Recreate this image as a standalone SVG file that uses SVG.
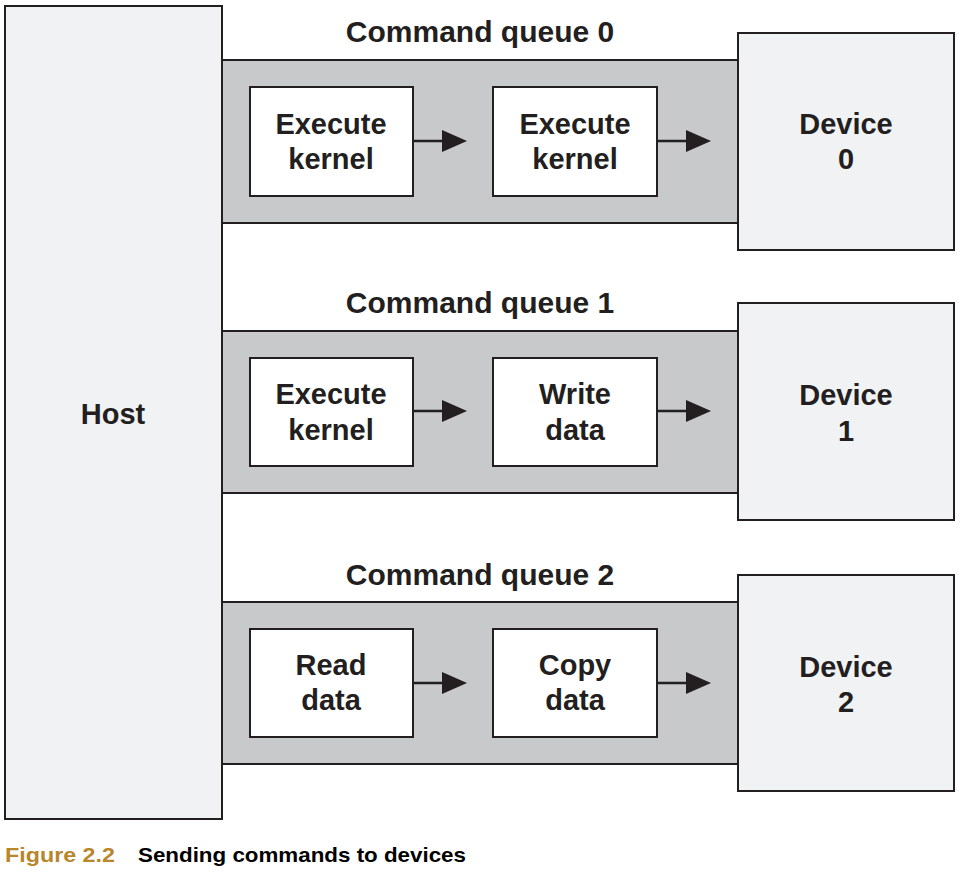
<svg xmlns="http://www.w3.org/2000/svg" width="962" height="872" viewBox="0 0 962 872">
<style>
.host{fill:#f1f2f4;stroke:#231f20;stroke-width:2}
.band{fill:#c8c9cb;stroke:#231f20;stroke-width:2}
.box{fill:#ffffff;stroke:#231f20;stroke-width:2}
.dev{fill:#f1f2f4;stroke:#231f20;stroke-width:2}
.t{font-family:"Liberation Sans",Arial,sans-serif;font-weight:bold;font-size:29px;fill:#231f20;text-anchor:middle}
.q{font-size:30px}
.ln{stroke:#231f20;stroke-width:2.5;fill:none}
.hd{fill:#231f20}
.cap{font-family:"Liberation Sans",Arial,sans-serif;font-weight:bold;font-size:21px}
</style>
<rect width="962" height="872" fill="#ffffff"/>
<g id="host">
<rect class="host" x="5" y="6" width="217" height="813"/>
<text class="t" x="113" y="424">Host</text>
</g>
<g id="queue0">
<rect class="band" x="222" y="60" width="516" height="163"/>
<text class="t q" x="480" y="42">Command queue 0</text>
</g>
<g id="queue1">
<rect class="band" x="222" y="331" width="516" height="162"/>
<text class="t q" x="480" y="313">Command queue 1</text>
</g>
<g id="queue2">
<rect class="band" x="222" y="602" width="516" height="162"/>
<text class="t q" x="480" y="585">Command queue 2</text>
</g>
<g id="q0a">
<rect class="box" x="250" y="87" width="163" height="109"/>
<text class="t" x="331" y="134">Execute</text>
<text class="t" x="331" y="169">kernel</text>
</g>
<g id="q0b">
<rect class="box" x="493" y="87" width="164" height="109"/>
<text class="t" x="575" y="134">Execute</text>
<text class="t" x="575" y="169">kernel</text>
</g>
<g id="q1a">
<rect class="box" x="250" y="358" width="163" height="108"/>
<text class="t" x="331" y="404">Execute</text>
<text class="t" x="331" y="440">kernel</text>
</g>
<g id="q1b">
<rect class="box" x="493" y="358" width="164" height="108"/>
<text class="t" x="575" y="404">Write</text>
<text class="t" x="575" y="440">data</text>
</g>
<g id="q2a">
<rect class="box" x="250" y="629" width="163" height="108"/>
<text class="t" x="331" y="675">Read</text>
<text class="t" x="331" y="710">data</text>
</g>
<g id="q2b">
<rect class="box" x="493" y="629" width="164" height="108"/>
<text class="t" x="575" y="675">Copy</text>
<text class="t" x="575" y="710">data</text>
</g>
<g id="device0">
<rect class="dev" x="738" y="33" width="216" height="217"/>
<text class="t" x="846" y="134">Device</text>
<text class="t" x="846" y="169">0</text>
</g>
<g id="device1">
<rect class="dev" x="738" y="303" width="216" height="217"/>
<text class="t" x="846" y="405">Device</text>
<text class="t" x="846" y="441">1</text>
</g>
<g id="device2">
<rect class="dev" x="738" y="575" width="216" height="216"/>
<text class="t" x="846" y="677">Device</text>
<text class="t" x="846" y="712">2</text>
</g>
<g id="connectors">
<line class="ln" x1="413" y1="141" x2="444" y2="141"/><polygon class="hd" points="442,130 467,141 442,152"/>
<line class="ln" x1="657" y1="141" x2="688" y2="141"/><polygon class="hd" points="686,130 711,141 686,152"/>
<line class="ln" x1="413" y1="411" x2="444" y2="411"/><polygon class="hd" points="442,400 467,411 442,422"/>
<line class="ln" x1="657" y1="411" x2="688" y2="411"/><polygon class="hd" points="686,400 711,411 686,422"/>
<line class="ln" x1="413" y1="683" x2="444" y2="683"/><polygon class="hd" points="442,672 467,683 442,694"/>
<line class="ln" x1="657" y1="683" x2="688" y2="683"/><polygon class="hd" points="686,672 711,683 686,694"/>
</g>
<g id="caption">
<text class="cap" x="5" y="862" fill="#b8862b" textLength="110" lengthAdjust="spacingAndGlyphs">Figure 2.2</text>
<text class="cap" x="138" y="862" fill="#000000" textLength="328" lengthAdjust="spacingAndGlyphs">Sending commands to devices</text>
</g>
</svg>
